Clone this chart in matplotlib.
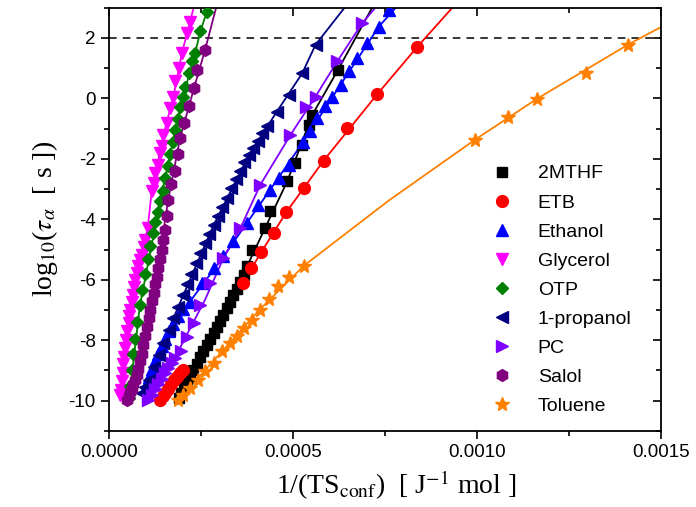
import matplotlib
matplotlib.use("Agg")
import matplotlib.pyplot as plt

plt.rcParams['font.family'] = ['Liberation Sans', 'DejaVu Sans']
plt.rcParams['mathtext.fontset'] = 'stix'
plt.rcParams['axes.unicode_minus'] = False

# 2MTHF
mthf_x = [0.000189, 0.000196, 0.000204, 0.000212, 0.000220, 0.000229, 0.000238, 0.000247, 0.000256,
          0.000265, 0.000275, 0.000284, 0.000293, 0.000302, 0.000311, 0.000320, 0.000329, 0.000338,
          0.000347, 0.000356, 0.000366, 0.000375, 0.000388, 0.000425, 0.000436, 0.000484, 0.000506,
          0.000525, 0.000542, 0.000552, 0.000622]
mthf_y = [-9.92, -9.75, -9.55, -9.36, -9.17, -8.97, -8.77, -8.57, -8.37, -8.17, -7.97, -7.77, -7.57,
          -7.37, -7.17, -6.95, -6.74, -6.52, -6.30, -6.07, -5.85, -5.55, -5.01, -4.29, -3.74, -2.75,
          -2.14, -1.54, -0.88, -0.55, 0.94]
mthf_lx = [0.000189, 0.000284, 0.000375, 0.000484, 0.000552, 0.000622, 0.000715]
mthf_ly = [-9.92, -7.77, -5.55, -2.75, -0.55, 0.94, 3.0]

# ETB
etb_x = [0.000139, 0.000146, 0.000153, 0.000160, 0.000168, 0.000176, 0.000184, 0.000193, 0.000202,
         0.000363, 0.000387, 0.000414, 0.000449, 0.000482, 0.000529, 0.000583, 0.000647, 0.000729,
         0.000838]
etb_y = [-9.98, -9.86, -9.73, -9.60, -9.46, -9.32, -9.20, -9.08, -8.98, -6.11, -5.62, -5.08, -4.46,
         -3.76, -2.97, -2.06, -0.97, 0.14, 1.71]
etb_lx = [0.000325, 0.000363, 0.000414, 0.000482, 0.000583, 0.000729, 0.000838, 0.000933]
etb_ly = [-6.94, -6.11, -5.08, -3.76, -2.06, 0.14, 1.71, 3.0]

# Ethanol
eth_x = [0.000103, 0.000108, 0.000116, 0.000125, 0.000134, 0.000143, 0.000152, 0.000163, 0.000175,
         0.000188, 0.000202, 0.000220, 0.000252, 0.000284, 0.000311, 0.000338, 0.000375, 0.000406,
         0.000438, 0.000461, 0.000488, 0.000527, 0.000547, 0.000565, 0.000588, 0.000606, 0.000629,
         0.000651, 0.000674, 0.000701, 0.000733, 0.000760]
eth_y = [-9.41, -9.20, -8.95, -8.70, -8.45, -8.20, -7.95, -7.70, -7.45, -7.20, -6.98, -6.72, -6.11,
         -5.61, -5.23, -4.73, -4.13, -3.52, -3.02, -2.64, -2.20, -1.45, -1.09, -0.65, -0.27, 0.06,
         0.45, 0.89, 1.33, 1.82, 2.37, 2.93]
eth_lx = [0.000103, 0.000175, 0.000220, 0.000311, 0.000438, 0.000527, 0.000629, 0.000733, 0.000779]
eth_ly = [-9.41, -7.45, -6.72, -5.23, -3.02, -1.45, 0.45, 2.37, 3.0]

# Glycerol
gly_x = [0.000030, 0.000032, 0.000035, 0.000037, 0.000039, 0.000041, 0.000044, 0.000046, 0.000050,
         0.000053, 0.000055, 0.000057, 0.000062, 0.000066, 0.000069, 0.000071, 0.000076, 0.000080,
         0.000085, 0.000089, 0.000094, 0.000098, 0.000105, 0.000116, 0.000121, 0.000125, 0.000134,
         0.000139, 0.000143, 0.000148, 0.000157, 0.000166, 0.000175, 0.000180, 0.000189, 0.000198,
         0.000211, 0.000220]
gly_y = [-9.80, -9.64, -9.35, -9.08, -8.80, -8.54, -8.26, -7.98, -7.70, -7.43, -7.20, -6.99, -6.75,
         -6.50, -6.25, -6.00, -5.78, -5.56, -5.35, -5.17, -4.92, -4.68, -4.30, -3.08, -2.80, -2.47,
         -2.20, -1.81, -1.59, -1.21, -0.82, -0.32, 0.06, 0.56, 1.00, 1.49, 2.15, 2.54]
gly_lx = [0.000030, 0.000057, 0.000080, 0.000105, 0.000116, 0.000148, 0.000175, 0.000198, 0.000230]
gly_ly = [-9.80, -6.99, -5.56, -4.30, -3.08, -1.21, 0.06, 1.49, 3.0]

# OTP
otp_x = [0.000055, 0.000058, 0.000062, 0.000066, 0.000071, 0.000077, 0.000084, 0.000091, 0.000098,
         0.000105, 0.000112, 0.000119, 0.000126, 0.000132, 0.000139, 0.000146, 0.000153, 0.000160,
         0.000166, 0.000173, 0.000180, 0.000187, 0.000193, 0.000200, 0.000207, 0.000216, 0.000225,
         0.000234, 0.000248, 0.000266]
otp_y = [-9.90, -9.50, -9.00, -8.45, -7.95, -7.40, -6.85, -6.35, -5.80, -5.30, -4.90, -4.45, -4.10,
         -3.75, -3.40, -3.05, -2.65, -2.25, -1.85, -1.45, -1.05, -0.68, -0.30, 0.05, 0.39, 0.83,
         1.22, 1.49, 2.21, 2.87]
otp_lx = [0.000055, 0.000084, 0.000139, 0.000193, 0.000234, 0.000248, 0.000266, 0.000270]
otp_ly = [-9.90, -6.85, -3.40, -0.30, 1.49, 2.21, 2.87, 3.0]

# 1-propanol
pro_x = [0.000089, 0.000098, 0.000108, 0.000121, 0.000135, 0.000148, 0.000162, 0.000175, 0.000188,
         0.000200, 0.000212, 0.000224, 0.000236, 0.000248, 0.000260, 0.000272, 0.000284, 0.000296,
         0.000308, 0.000320, 0.000332, 0.000344, 0.000356, 0.000368, 0.000380, 0.000392, 0.000404,
         0.000416, 0.000428, 0.000456, 0.000488, 0.000525, 0.000561]
pro_y = [-9.75, -9.55, -9.30, -8.90, -8.50, -8.10, -7.65, -7.25, -6.90, -6.50, -6.15, -5.80, -5.45,
         -5.10, -4.80, -4.50, -4.20, -3.90, -3.60, -3.28, -2.98, -2.68, -2.40, -2.12, -1.88, -1.65,
         -1.40, -1.15, -0.92, -0.44, 0.12, 0.83, 1.77]
pro_lx = [0.000089, 0.000188, 0.000284, 0.000380, 0.000456, 0.000525, 0.000561, 0.000640]
pro_ly = [-9.75, -6.90, -4.20, -1.88, -0.44, 0.83, 1.77, 3.0]

# PC
pc_x = [0.000107, 0.000116, 0.000125, 0.000134, 0.000143, 0.000152, 0.000161, 0.000170, 0.000178,
        0.000195, 0.000211, 0.000232, 0.000248, 0.000275, 0.000311, 0.000357, 0.000411, 0.000493,
        0.000534, 0.000561, 0.000620, 0.000688]
pc_y = [-9.97, -9.80, -9.62, -9.45, -9.27, -9.10, -8.93, -8.76, -8.60, -8.34, -7.90, -7.43, -6.83,
        -6.11, -5.28, -4.29, -2.86, -1.21, -0.30, 0.06, 1.22, 2.49]
pc_lx = [0.000107, 0.000178, 0.000261, 0.000311, 0.000357, 0.000411, 0.000493, 0.000561, 0.000620,
         0.000688, 0.000724]
pc_ly = [-9.97, -8.60, -6.66, -5.28, -4.29, -2.86, -1.21, 0.06, 1.22, 2.49, 3.0]

# Salol
sal_x = [0.000048, 0.000053, 0.000057, 0.000062, 0.000066, 0.000071, 0.000075, 0.000080, 0.000084,
         0.000089, 0.000093, 0.000098, 0.000103, 0.000108, 0.000112, 0.000117, 0.000121, 0.000126,
         0.000130, 0.000134, 0.000139, 0.000143, 0.000148, 0.000152, 0.000157, 0.000161, 0.000169,
         0.000178, 0.000187, 0.000193, 0.000204, 0.000218, 0.000231, 0.000240, 0.000261]
sal_y = [-9.97, -9.85, -9.72, -9.60, -9.45, -9.30, -9.15, -8.95, -8.70, -8.45, -8.15, -7.85, -7.55,
         -7.25, -7.00, -6.70, -6.45, -6.15, -5.90, -5.60, -5.30, -5.00, -4.70, -4.35, -3.90, -3.35,
         -2.84, -2.40, -1.85, -1.32, -0.80, -0.25, 0.34, 0.94, 1.60]
sal_lx = [0.000048, 0.000080, 0.000121, 0.000161, 0.000193, 0.000231, 0.000261, 0.000291]
sal_ly = [-9.97, -8.95, -6.45, -3.35, -1.32, 0.34, 1.60, 3.0]

# Toluene
tol_x = [0.000188, 0.000202, 0.000220, 0.000243, 0.000261, 0.000284, 0.000307, 0.000329, 0.000348,
         0.000368, 0.000388, 0.000409, 0.000434, 0.000459, 0.000488, 0.000529, 0.000994, 0.001083,
         0.001162, 0.001297, 0.001409]
tol_y = [-9.97, -9.80, -9.58, -9.31, -9.03, -8.75, -8.37, -8.09, -7.87, -7.60, -7.32, -6.99, -6.64,
         -6.22, -5.92, -5.54, -1.37, -0.63, -0.02, 0.83, 1.77]
tol_lx = [0.000188, 0.000307, 0.000409, 0.000529, 0.000760, 0.000994, 0.001162, 0.001409, 0.0015]
tol_ly = [-9.97, -8.37, -6.99, -5.54, -3.38, -1.37, -0.02, 1.77, 2.36]

series = [
    ("2MTHF", mthf_x, mthf_y, mthf_lx, mthf_ly, "black", "s", 6.5),
    ("ETB", etb_x, etb_y, etb_lx, etb_ly, "#ff0000", "o", 8.5),
    ("Ethanol", eth_x, eth_y, eth_lx, eth_ly, "#0000ff", "^", 8.5),
    ("Glycerol", gly_x, gly_y, gly_lx, gly_ly, "#ff00ff", "v", 8.5),
    ("OTP", otp_x, otp_y, otp_lx, otp_ly, "#008000", "D", 6.5),
    ("1-propanol", pro_x, pro_y, pro_lx, pro_ly, "#000080", "<", 8.5),
    ("PC", pc_x, pc_y, pc_lx, pc_ly, "#8000ff", ">", 8.5),
    ("Salol", sal_x, sal_y, sal_lx, sal_ly, "#800080", "h", 8.5),
    ("Toluene", tol_x, tol_y, tol_lx, tol_ly, "#ff8000", "*", 10),
]

fig = plt.figure(figsize=(6.96, 5.07), dpi=100)
ax = fig.add_axes([0.1566, 0.150, 0.7934, 0.835])

for name, x, y, lx, ly, c, m, ms in series:
    ax.plot(lx, ly, color=c, lw=1.3, zorder=2)
    ax.plot(x, y, ls="none", marker=m, color=c, ms=ms, mec=c, label=name, zorder=3)

ax.axhline(2, color="black", ls=(0, (5, 4)), lw=1.1, zorder=1)

ax.set_xlim(0, 0.0015)
ax.set_ylim(-11, 3)
ax.set_xticks([0, 0.0005, 0.001, 0.0015])
ax.set_xticklabels(["0.0000", "0.0005", "0.0010", "0.0015"])
ax.set_xticks([0.00025, 0.00075, 0.00125], minor=True)
ax.set_yticks([-10, -8, -6, -4, -2, 0, 2])
ax.set_yticks([-11, -9, -7, -5, -3, -1, 1, 3], minor=True)
ax.tick_params(which="both", labelsize=13.5, width=1.2)
ax.tick_params(which="major", length=6)
ax.tick_params(which="minor", length=3.5)
ax.tick_params(axis="x", which="both", top=True, direction="out")
ax.tick_params(axis="y", which="both", right=True, direction="out")
# mirrored ticks point inward on top and right
for t in ax.xaxis.get_major_ticks() + ax.xaxis.get_minor_ticks():
    t.tick2line.set_marker(matplotlib.lines.TICKDOWN)
for t in ax.yaxis.get_major_ticks() + ax.yaxis.get_minor_ticks():
    t.tick2line.set_marker(matplotlib.lines.TICKLEFT)
for s in ax.spines.values():
    s.set_linewidth(1.3)

ax.set_xlabel(r"1/(TS$_{\mathrm{conf}}$)  [ J$^{\mathrm{-1}}$ mol ]",
              family="Liberation Serif", fontsize=20)
ax.xaxis.set_label_coords(0.52, -0.09)
ax.set_ylabel(r"log$_{10}$($\tau_{\alpha}$  [ s ])",
              family="Liberation Serif", fontsize=20, labelpad=6)

ax.legend(loc="upper left", bbox_to_anchor=(0.662, 0.647), frameon=False,
          fontsize=14, labelspacing=0.59, handletextpad=0.85, borderaxespad=0)

fig.savefig("out.png", dpi=100)
